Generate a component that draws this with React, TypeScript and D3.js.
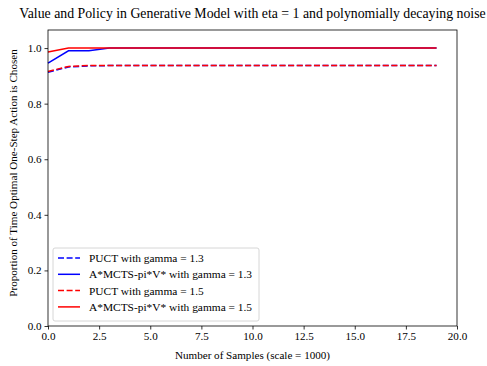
import React, { useEffect, useRef } from 'react';
import * as d3 from 'd3';

// samples (scale = 1000)
const samples = d3.range(0, 20);

const puct13 = [0.913, 0.932, 0.936, 0.937, 0.937, 0.937, 0.937, 0.937, 0.937, 0.937, 0.937, 0.937, 0.937, 0.937, 0.937, 0.937, 0.937, 0.937, 0.937, 0.937];
const astar13 = [0.946, 0.99, 0.99, 1.0, 1.0, 1.0, 1.0, 1.0, 1.0, 1.0, 1.0, 1.0, 1.0, 1.0, 1.0, 1.0, 1.0, 1.0, 1.0, 1.0];
const puct15 = [0.916, 0.934, 0.937, 0.937, 0.937, 0.937, 0.937, 0.937, 0.937, 0.937, 0.937, 0.937, 0.937, 0.937, 0.937, 0.937, 0.937, 0.937, 0.937, 0.937];
const astar15 = [0.986, 1.0, 1.0, 1.0, 1.0, 1.0, 1.0, 1.0, 1.0, 1.0, 1.0, 1.0, 1.0, 1.0, 1.0, 1.0, 1.0, 1.0, 1.0, 1.0];

const xTicks = [0, 2.5, 5, 7.5, 10, 12.5, 15, 17.5, 20];
const yTicks = [0, 0.2, 0.4, 0.6, 0.8, 1.0];

const series = [
  { name: 'PUCT with gamma = 1.3', values: puct13, color: '#0000ff', dash: '6,2.6' },
  { name: 'A*MCTS-pi*V* with gamma = 1.3', values: astar13, color: '#0000ff', dash: null },
  { name: 'PUCT with gamma = 1.5', values: puct15, color: '#ff0000', dash: '6,2.6' },
  { name: 'A*MCTS-pi*V* with gamma = 1.5', values: astar15, color: '#ff0000', dash: null },
];

const App = () => {
  const svgRef = useRef<SVGSVGElement>(null);
  const width = 487;
  const height = 366;
  const margin = { top: 30, right: 30, bottom: 40, left: 48 };

  useEffect(() => {
    const svg = d3.select(svgRef.current);
    svg.selectAll('*').remove();

    const chartWidth = width - margin.left - margin.right;
    const chartHeight = height - margin.top - margin.bottom;
    const font = '"Liberation Serif", "Times New Roman", serif';
    const fs = 11.1;

    const g = svg.append('g').attr('transform', `translate(${margin.left},${margin.top})`);

    const x = d3.scaleLinear().domain([0, 20]).range([0, chartWidth]);
    const y = d3.scaleLinear().domain([0, 1.065]).range([chartHeight, 0]);

    const line = d3.line<number>()
      .x((d, i) => x(samples[i]))
      .y(d => y(d));

    series.forEach(s => {
      g.append('path')
        .datum(s.values)
        .attr('d', line)
        .attr('fill', 'none')
        .attr('stroke', s.color)
        .attr('stroke-width', 1.5)
        .attr('stroke-dasharray', s.dash);
    });

    // frame
    g.append('rect')
      .attr('width', chartWidth)
      .attr('height', chartHeight)
      .attr('fill', 'none')
      .attr('stroke', '#000')
      .attr('stroke-width', 0.8);

    const xAxis = g.append('g')
      .attr('transform', `translate(0,${chartHeight})`)
      .call(d3.axisBottom(x).tickValues(xTicks).tickFormat(d3.format('.1f')).tickSize(3.5).tickPadding(3));
    const yAxis = g.append('g')
      .call(d3.axisLeft(y).tickValues(yTicks).tickFormat(d3.format('.1f')).tickSize(3.5).tickPadding(3));

    [xAxis, yAxis].forEach(a => {
      a.select('.domain').remove();
      a.selectAll('text').attr('font-family', font).attr('font-size', fs).attr('fill', '#000');
      a.selectAll('line').attr('stroke', '#000').attr('stroke-width', 0.8);
    });

    // title
    svg.append('text')
      .attr('x', margin.left + chartWidth / 2)
      .attr('y', 18)
      .attr('text-anchor', 'middle')
      .attr('font-family', font)
      .attr('font-size', 13.8)
      .text('Value and Policy in Generative Model with eta = 1 and polynomially decaying noise');

    svg.append('text')
      .attr('x', margin.left + chartWidth / 2)
      .attr('y', height - 7)
      .attr('text-anchor', 'middle')
      .attr('font-family', font)
      .attr('font-size', fs)
      .text('Number of Samples (scale = 1000)');

    svg.append('text')
      .attr('transform', `translate(17,${margin.top + chartHeight / 2 - 5}) rotate(-90)`)
      .attr('text-anchor', 'middle')
      .attr('font-family', font)
      .attr('font-size', fs)
      .text('Proportion of Time Optimal One-Step Action is Chosen');

    // legend
    const legend = g.append('g').attr('transform', `translate(5,${chartHeight - 78})`);
    legend.append('rect')
      .attr('width', 206)
      .attr('height', 73)
      .attr('rx', 2)
      .attr('fill', '#fff')
      .attr('fill-opacity', 0.8)
      .attr('stroke', '#ccc')
      .attr('stroke-width', 0.8);

    series.forEach((s, i) => {
      const row = legend.append('g').attr('transform', `translate(0,${10 + i * 16.3})`);
      row.append('line')
        .attr('x1', 5).attr('x2', 27)
        .attr('stroke', s.color)
        .attr('stroke-width', 1.5)
        .attr('stroke-dasharray', s.dash);
      row.append('text')
        .attr('x', 36)
        .attr('y', 4)
        .attr('font-family', font)
        .attr('font-size', 11.4)
        .text(s.name);
    });
  }, []);

  return (
    <div>
      <svg ref={svgRef} width={width} height={height} style={{ position: 'absolute', left: 0, top: 0 }}></svg>
    </div>
  );
};

export default App;
